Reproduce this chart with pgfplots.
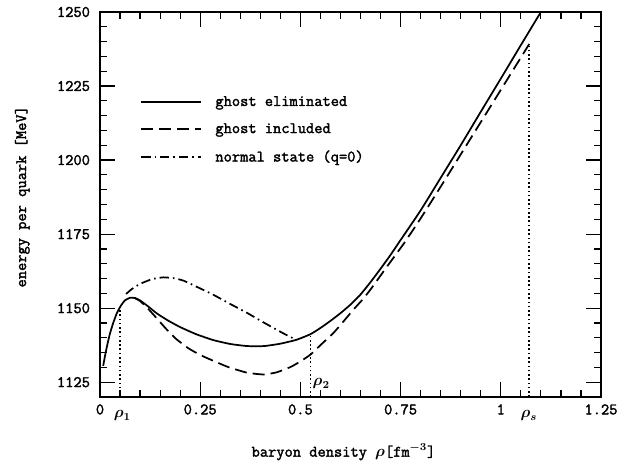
\documentclass[border=0pt]{standalone}
\usepackage{fontspec}
\newfontfamily\labfont{Latin Modern Mono}[FakeBold=2]
\usepackage{pgfplots}
\pgfplotsset{compat=1.18}
\begin{document}
\begin{tikzpicture}
\begin{axis}[name=ax, scale only axis, width=375.75pt, height=288.75pt,
  clip mode=individual,
  xmin=0, xmax=1.25, ymin=1120, ymax=1250,
  xtick={0,0.25,0.5,0.75,1,1.25}, xticklabels={0,0.25,0.5,0.75,1,1.25},
  ytick={1125,1150,1175,1200,1225,1250},
  yticklabels={1125,1150,1175,1200,1225,1250},
  minor x tick num=4, minor y tick num=4,
  tick align=inside, tick pos=both,
  major tick length=11pt, minor tick length=5pt,
  every tick/.style={black, line width=0.9pt},
  axis line style={line width=1.1pt},
  /pgf/number format/assume math mode=true,
  /pgf/number format/1000 sep={},
  tick label style={font=\fontsize{12}{14}\selectfont\labfont},
  yticklabel style={xshift=-4pt},
  xticklabel style={yshift=-2pt},
  xlabel={baryon density {\boldmath$\rho$}[fm{\boldmath$^{-3}$}]},
  ylabel={energy per quark [MeV]},
  label style={font=\fontsize{12}{14}\selectfont\labfont},
  xlabel style={at={(axis description cs:0.486,-0.143)}, anchor=center},
  ylabel style={at={(axis description cs:-0.155,0.52)}, anchor=center},
  legend image code/.code={\draw[#1] (0pt,0pt) -- (45pt,0pt); \path (53pt,0pt);},
  legend style={at={(axis cs:0.1,1210.2)}, anchor=west, draw=none, fill=none,
    inner sep=0pt, row sep=7.5pt, font=\fontsize{12}{14}\selectfont\labfont},
  legend cell align=left,
]
\addplot[black, line width=1.3pt, smooth, tension=0.3] coordinates {
(0.008,1130.5) (0.012,1133.5) (0.018,1137.5) (0.025,1141.5) (0.033,1145) (0.042,1148.3)
(0.052,1150.8) (0.062,1152.6) (0.075,1153.5) (0.088,1153.4) (0.1,1152.6) (0.12,1150.6) (0.142,1148.2)
(0.17,1145.8) (0.2,1143.6) (0.24,1141.2) (0.283,1139.2) (0.325,1137.9) (0.367,1137.2)
(0.41,1137.2) (0.45,1138) (0.49,1139.3) (0.525,1141.2) (0.55,1143.3) (0.575,1145.7)
(0.6,1148.3) (0.625,1151.2) (0.65,1154.6) (0.675,1158.8) (0.7,1163.3) (0.725,1168)
(0.75,1173) (0.8,1183) (0.85,1194) (0.9,1205) (0.95,1216.3) (1.0,1227.5) (1.05,1238.8)
(1.1,1250)
};
\addlegendentry{ghost eliminated}
\addplot[black, line width=1.3pt, dash pattern=on 9pt off 4.5pt, smooth, tension=0.3] coordinates {
(0.085,1153.5) (0.1,1152.4) (0.12,1149.8) (0.142,1146.5) (0.165,1143) (0.19,1139.6)
(0.22,1136.5) (0.25,1134.2) (0.283,1132.2) (0.32,1130.1) (0.367,1128.2) (0.408,1127.6)
(0.44,1128.3) (0.475,1130.1) (0.5,1132) (0.525,1134.3) (0.55,1137.5) (0.583,1141.7)
(0.608,1145.6) (0.633,1149.6) (0.655,1152.9) (0.675,1156.3) (0.717,1164.2) (0.758,1171.8)
(0.8,1180.3) (0.85,1191) (0.9,1201.9) (0.95,1212.8) (1.0,1223.7) (1.05,1234.6) (1.071,1239.2)
};
\addlegendentry{ghost included}
\addplot[black, line width=1.3pt, dash pattern=on 7pt off 3pt on 1.2pt off 3pt, smooth, tension=0.3] coordinates {
(0.065,1154.8) (0.08,1156.5) (0.1,1158.2) (0.13,1159.8) (0.158,1160.4) (0.185,1160.1)
(0.208,1159.3) (0.24,1157.3) (0.283,1154.5) (0.325,1151.4) (0.367,1148.4) (0.4,1145.8)
(0.433,1143.3) (0.46,1141.3) (0.485,1139.6)
};
\addlegendentry{normal state (q=0)}
\addplot[black, line width=1.2pt, dotted, forget plot] coordinates {(0.05,1120) (0.05,1150)};
\addplot[black, line width=1.2pt, dotted, forget plot] coordinates {(0.525,1120) (0.525,1141.2)};
\addplot[black, line width=1.2pt, dotted, forget plot] coordinates {(1.071,1120) (1.071,1239.2)};
\node[font=\fontsize{12}{14}\selectfont\boldmath] at (axis cs:0.056,1120) [yshift=-14pt] {$\rho_1$};
\node[font=\fontsize{12}{14}\selectfont\boldmath] at (axis cs:1.07,1120) [yshift=-14pt] {$\rho_s$};
\node[font=\fontsize{12}{14}\selectfont\boldmath] at (axis cs:0.552,1124.5) {$\rho_2$};
\end{axis}
\pgfresetboundingbox
\path[use as bounding box] ([shift={(-75pt,-49.5pt)}]ax.south west) rectangle ([shift={(399.75pt,297.75pt)}]ax.south west);
\end{tikzpicture}
\end{document}
